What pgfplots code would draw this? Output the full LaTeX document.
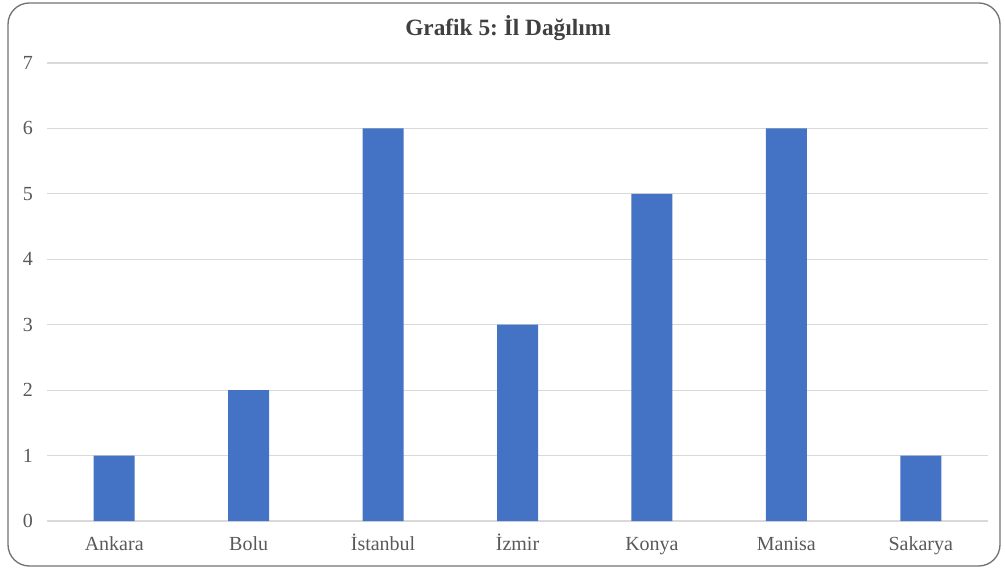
\documentclass[border=0pt]{standalone}
\usepackage{fontspec}
\setmainfont{Liberation Serif}
\usepackage{pgfplots}
\pgfplotsset{compat=1.18}
\definecolor{barblue}{HTML}{4472C4}
\definecolor{gridgray}{HTML}{D9D9D9}
\definecolor{txtgray}{HTML}{595959}
\frenchspacing
\begin{document}
\begin{tikzpicture}[x=0.75pt,y=0.75pt]
% 1px = 0.75pt, axis origin at px (47,521)
\useasboundingbox (-47,-50) rectangle (958,521);
\draw[color=black!55, line width=1pt, rounded corners=16pt] (-39,-45) rectangle (953,518);
\begin{axis}[
    at={(0pt,0pt)}, anchor=south west,
    scale only axis,
    width=705.75pt, height=343.5pt,
    ybar, bar width=30.75pt,
    xmin=-0.5, xmax=6.5,
    ymin=0, ymax=7,
    xtick=data,
    xticklabels={Ankara, Bolu, İstanbul, İzmir, Konya, Manisa, Sakarya},
    ytick={0,1,...,7},
    ymajorgrids,
    grid style={gridgray, line width=0.9pt},
    axis line style={draw=none},
    major tick length=0pt,
    tick label style={font=\fontsize{15}{18}\selectfont, color=txtgray},
    xticklabel style={anchor=base, yshift=-22pt},
    yticklabel style={xshift=-7pt},
    /pgf/number format/assume math mode=true,
    clip=false,
]
\addplot[fill=barblue, draw=none] coordinates {
    (0,1) (1,2) (2,6) (3,3) (4,5) (5,6) (6,1)
};
\end{axis}
\node[font=\bfseries\fontsize{17.5}{20}\selectfont, color=black!75] at (461,493) {Grafik 5: İl Dağılımı};
\end{tikzpicture}
\end{document}
